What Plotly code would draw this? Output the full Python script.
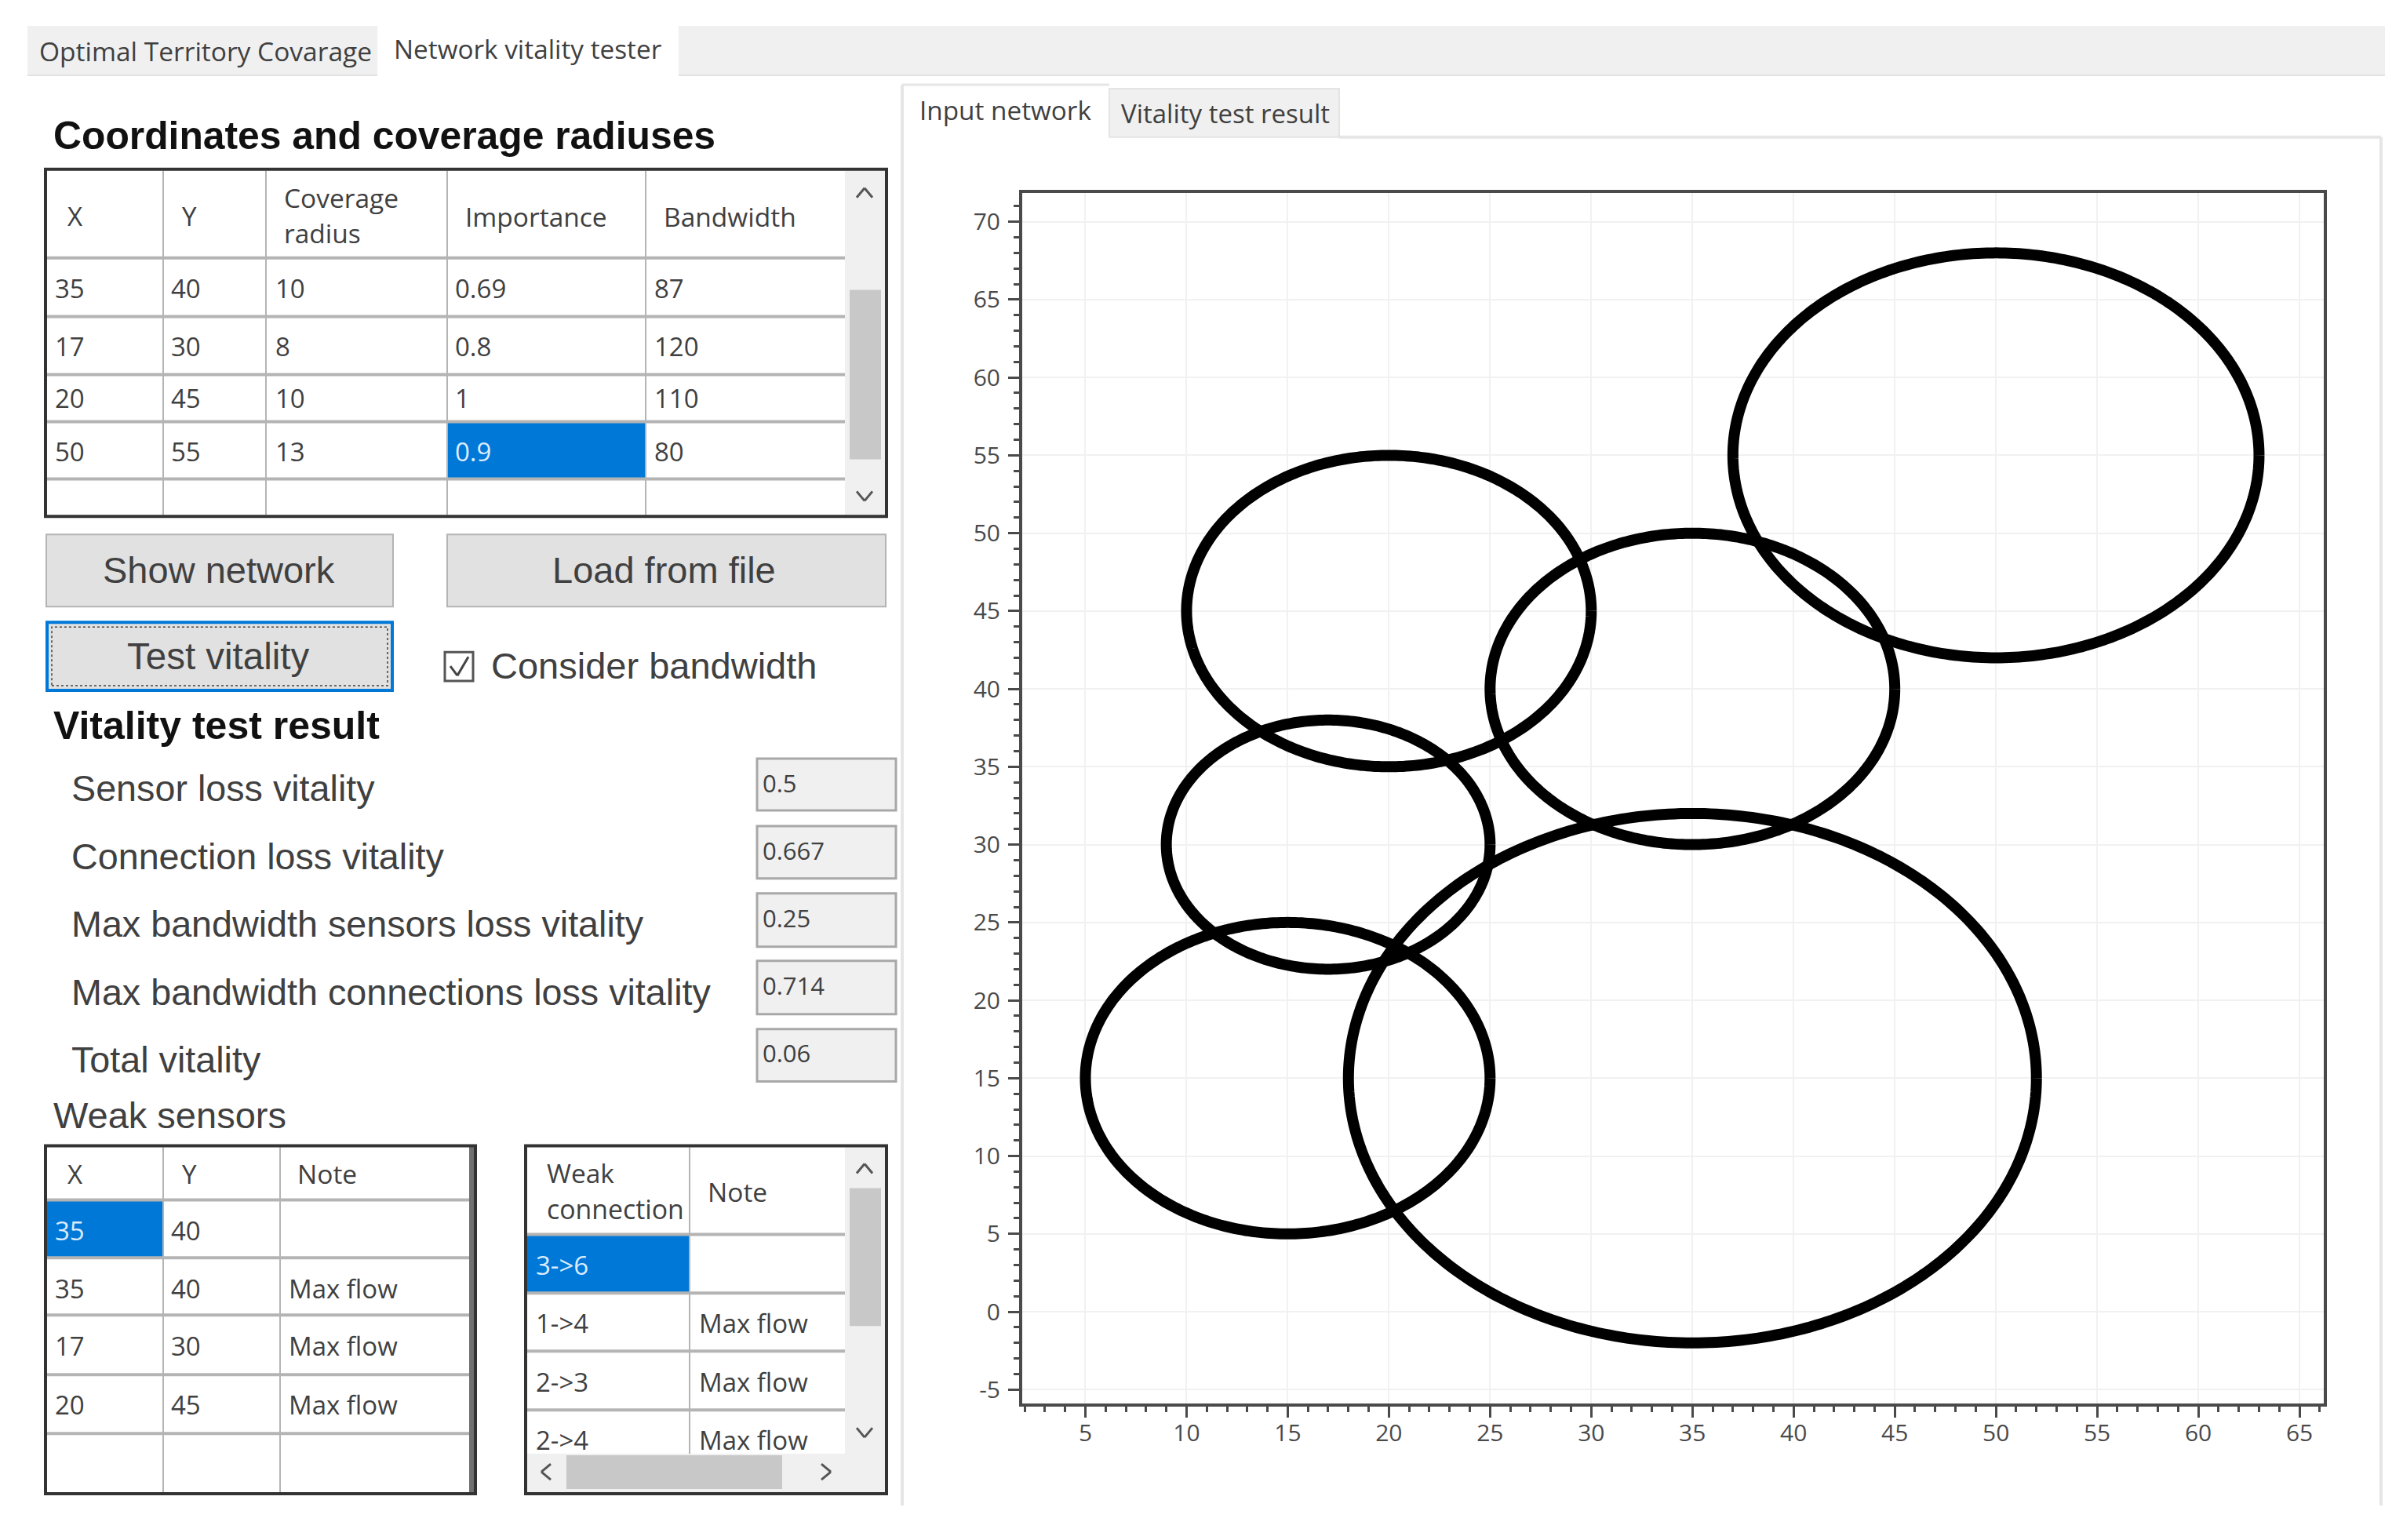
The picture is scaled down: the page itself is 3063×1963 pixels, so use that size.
import math
import plotly.graph_objects as go

W, H = 3063, 1963

# ---- data ----
NET_X = [35, 17, 20, 50, 15, 35]
NET_Y = [40, 30, 45, 55, 15, 15]
NET_R = [10, 8, 10, 13, 10, 17]

T1_X = ["35", "17", "20", "50"]
T1_Y = ["40", "30", "45", "55"]
T1_R = ["10", "8", "10", "13"]
T1_IMP = ["0.69", "0.8", "1", "0.9"]
T1_BW = ["87", "120", "110", "80"]

RESULT_LABELS = ["Sensor loss vitality", "Connection loss vitality", "Max bandwidth sensors loss vitality",
                 "Max bandwidth connections loss vitality", "Total vitality"]
RESULT_VALUES = ["0.5", "0.667", "0.25", "0.714", "0.06"]

WS_X = ["35", "35", "17", "20"]
WS_Y = ["40", "40", "30", "45"]
WS_NOTE = ["", "Max flow", "Max flow", "Max flow"]

WC_NAME = ["3->6", "1->4", "2->3", "2->4"]
WC_NOTE = ["", "Max flow", "Max flow", "Max flow"]

X_TICKS = list(range(5, 70, 5))
Y_TICKS = list(range(-5, 75, 5))

# ---- styling / geometry constants ----
SEGOE = "Open Sans"
ARIAL = "Liberation Sans"
TXT = "#404040"
BLUE = "#0078d7"
AX = "#4a4a4a"

fig = go.Figure()
shapes, notes = [], []


def px(x):
    return x / W


def py(y):
    return 1 - y / H


def rect(x0, y0, x1, y1, fill=None, line=None, lw=0, dash=None):
    shapes.append(dict(type="rect", xref="paper", yref="paper", layer="below",
                       x0=px(x0), x1=px(x1), y0=py(y1), y1=py(y0),
                       fillcolor=fill if fill else "rgba(0,0,0,0)",
                       line=dict(color=line if line else "rgba(0,0,0,0)", width=lw, dash=dash or "solid")))


def seg(x0, y0, x1, y1, color="#b8b8b8", lw=2):
    shapes.append(dict(type="line", xref="paper", yref="paper", layer="below",
                       x0=px(x0), x1=px(x1), y0=py(y0), y1=py(y1),
                       line=dict(color=color, width=lw)))


def poly(points, color="#404040", lw=3):
    for (a, b), (c, d) in zip(points, points[1:]):
        seg(a, b, c, d, color, lw)


def text(x, y, s, size=33, font=SEGOE, color=TXT, anchor="left", bold=False):
    if not s:
        return
    notes.append(dict(xref="paper", yref="paper", x=px(x), y=py(y), text=f"<b>{s}</b>" if bold else s,
                      showarrow=False, xanchor=anchor, yanchor="middle", borderpad=0, borderwidth=0,
                      font=dict(family=font, size=size, color=color)))


def chevron(cx, cy, d, s=10, color="#555555"):
    if d == "up":
        poly([(cx - s, cy + s * .6), (cx, cy - s * .6), (cx + s, cy + s * .6)], color)
    if d == "down":
        poly([(cx - s, cy - s * .6), (cx, cy + s * .6), (cx + s, cy - s * .6)], color)
    if d == "left":
        poly([(cx + s * .6, cy - s), (cx - s * .6, cy), (cx + s * .6, cy + s)], color)
    if d == "right":
        poly([(cx - s * .6, cy - s), (cx + s * .6, cy), (cx - s * .6, cy + s)], color)


# ---- window tabs ----
rect(35, 33, 3040, 95, fill="#f0f0f0")
seg(35, 96, 3040, 96, "#e2e2e2", 2)
rect(481, 33, 865, 97, fill="#ffffff")
text(50, 65, "Optimal Territory Covarage", 33.5)
text(502, 62, "Network vitality tester", 33.3)

# ---- right panel ----
seg(1150, 108, 1150, 1921, "#e6e6e6", 4)
seg(3035, 175, 3035, 1921, "#e6e6e6", 4)
seg(1707, 175, 3035, 175, "#e6e6e6", 4)
seg(1150, 108, 1414, 108, "#e6e6e6", 3)
rect(1414, 113, 1707, 175, fill="#f0f0f0", line="#e4e4e4", lw=2)
text(1172, 140, "Input network", 33.3)
text(1429, 145, "Vitality test result", 33)

# ---- network table ----
text(68, 173, "Coordinates and coverage radiuses", 49.8, ARIAL, "#111111", bold=True)
rect(58, 216, 1130, 659, fill="#ffffff")
rect(1077, 218, 1128, 657, fill="#f0f0f0")
rect(1083, 370, 1123, 586, fill="#c8c8c8")
chevron(1102, 246, "up")
chevron(1102, 633, "down")
rect(570, 538, 823, 611, fill=BLUE)
for xc in (208, 339, 570, 823):
    seg(xc, 218, xc, 657, "#b4b4b4", 2)
for yc in (329, 404, 478, 538, 611):
    seg(60, yc, 1077, yc, "#b4b4b4", 4)
rect(58, 216, 1130, 659, line="#333333", lw=4)
text(95, 276, "X", 33, anchor="center")
text(241, 276, "Y", 33, anchor="center")
text(362, 252, "Coverage", 33.5)
text(362, 297, "radius", 33.5)
text(593, 276, "Importance", 33.5)
text(846, 276, "Bandwidth", 33.5)
ROW_Y1 = [368, 442, 508, 576]
for i, yc in enumerate(ROW_Y1):
    text(70, yc, T1_X[i])
    text(218, yc, T1_Y[i])
    text(351, yc, T1_R[i])
    text(580, yc, T1_IMP[i], color="#dcecff" if i == 3 else TXT)
    text(834, yc, T1_BW[i])

# ---- buttons ----
rect(59, 682, 501, 774, fill="#e1e1e1", line="#b4b4b4", lw=2)
rect(570, 682, 1129, 774, fill="#e1e1e1", line="#b4b4b4", lw=2)
rect(60, 794, 500, 881, fill="#e1e1e1", line=BLUE, lw=4)
rect(66, 800, 494, 875, line="#404040", lw=1.5, dash="dot")
text(279, 727, "Show network", 47, ARIAL, anchor="center")
text(847, 727, "Load from file", 47, ARIAL, anchor="center")
text(278, 837, "Test vitality", 47.5, ARIAL, anchor="center")
rect(567, 832, 603, 869, fill="#ffffff", line="#555555", lw=3)
poly([(574, 850), (583, 862), (597, 838)], "#444444", 3)
text(626, 849, "Consider bandwidth", 47, ARIAL)

# ---- results ----
text(68, 926, "Vitality test result", 50, ARIAL, "#111111", bold=True)
LABEL_Y = [1006, 1093, 1179, 1266, 1352]
BOX_Y = [(968, 1034), (1054, 1121), (1140, 1208), (1226, 1294), (1313, 1380)]
VALUE_Y = [999, 1085, 1171, 1257, 1343]
for lab, val, ly, (b0, b1), vy in zip(RESULT_LABELS, RESULT_VALUES, LABEL_Y, BOX_Y, VALUE_Y):
    text(91, ly, lab, 46.7, ARIAL)
    rect(965, b0, 1142, b1, fill="#f0f0f0", line="#a8a8a8", lw=3)
    text(972, vy, val, 31)

# ---- weak sensors table ----
text(68, 1423, "Weak sensors", 47, ARIAL)
rect(58, 1462, 606, 1906, fill="#ffffff")
rect(60, 1531, 208, 1605, fill=BLUE)
for xc in (208, 357):
    seg(xc, 1464, xc, 1904, "#b4b4b4", 2)
for yc in (1531, 1605, 1678, 1754, 1829):
    seg(60, yc, 598, yc, "#b4b4b4", 4)
rect(598, 1462, 606, 1906, fill="#707070")
rect(58, 1462, 606, 1906, line="#333333", lw=4)
text(95, 1498, "X", 33, anchor="center")
text(241, 1498, "Y", 33, anchor="center")
text(379, 1498, "Note", 33.5)
ROW_Y2 = [1570, 1644, 1717, 1792]
for i, yc in enumerate(ROW_Y2):
    text(70, yc, WS_X[i], color="#dcecff" if i == 0 else TXT)
    text(218, yc, WS_Y[i])
    text(368, yc, WS_NOTE[i])

# ---- weak connections table ----
rect(670, 1462, 1130, 1906, fill="#ffffff")
rect(672, 1575, 879, 1650, fill=BLUE)
seg(879, 1464, 879, 1855, "#b4b4b4", 2)
for yc in (1575, 1650, 1724, 1799):
    seg(672, yc, 1077, yc, "#b4b4b4", 4)
rect(1077, 1464, 1128, 1904, fill="#f0f0f0")
rect(672, 1855, 1128, 1904, fill="#f0f0f0")
rect(1083, 1516, 1123, 1692, fill="#c8c8c8")
rect(722, 1857, 997, 1900, fill="#c8c8c8")
chevron(1102, 1491, "up")
chevron(1102, 1828, "down")
chevron(696, 1878, "left")
chevron(1053, 1878, "right")
rect(670, 1462, 1130, 1906, line="#333333", lw=4)
text(697, 1497, "Weak", 33.5)
text(697, 1543, "connection", 33.8)
text(902, 1521, "Note", 33.5)
ROW_Y3 = [1614, 1688, 1763, 1837]
for i, yc in enumerate(ROW_Y3):
    text(683, yc, WC_NAME[i], color="#dcecff" if i == 0 else TXT)
    text(891, yc, WC_NOTE[i])

# ---- network plot ----
ANGLES = [math.radians(a) for a in range(0, 361)]
for cx, cy, r in zip(NET_X, NET_Y, NET_R):
    fig.add_trace(go.Scatter(x=[cx + r * math.cos(a) for a in ANGLES],
                             y=[cy + r * math.sin(a) for a in ANGLES],
                             mode="lines", line=dict(color="#000000", width=14, simplify=False),
                             hoverinfo="skip", showlegend=False))

axis = dict(showline=True, linecolor=AX, linewidth=4, mirror=True, zeroline=False,
            showgrid=True, gridcolor="#f1f1f1", gridwidth=2,
            ticks="outside", ticklen=14, tickwidth=3, tickcolor=AX,
            tickfont=dict(family=SEGOE, size=30, color="#4a4a4a"),
            minor=dict(dtick=1, ticks="outside", ticklen=7, tickwidth=3, tickcolor=AX, showgrid=False))

fig.update_layout(
    width=W, height=H, margin=dict(l=0, r=0, t=0, b=0), autosize=False,
    paper_bgcolor="#ffffff", plot_bgcolor="#ffffff", showlegend=False,
    shapes=shapes, annotations=notes,
    xaxis=dict(axis, domain=[px(1303), px(2962)], range=[1.88, 66.2], tickmode="array",
               tickvals=X_TICKS, ticktext=[str(v) for v in X_TICKS], anchor="y", ticklabelstandoff=-6),
    yaxis=dict(axis, domain=[py(1791), py(246)], range=[-5.9, 71.86], tickmode="array",
               tickvals=Y_TICKS, ticktext=[str(v) for v in Y_TICKS], anchor="x", ticklabelstandoff=4),
)

fig.write_html("out.html", config={"displayModeBar": False},
               post_script="document.body.style.margin='0';document.body.style.overflow='hidden';")
